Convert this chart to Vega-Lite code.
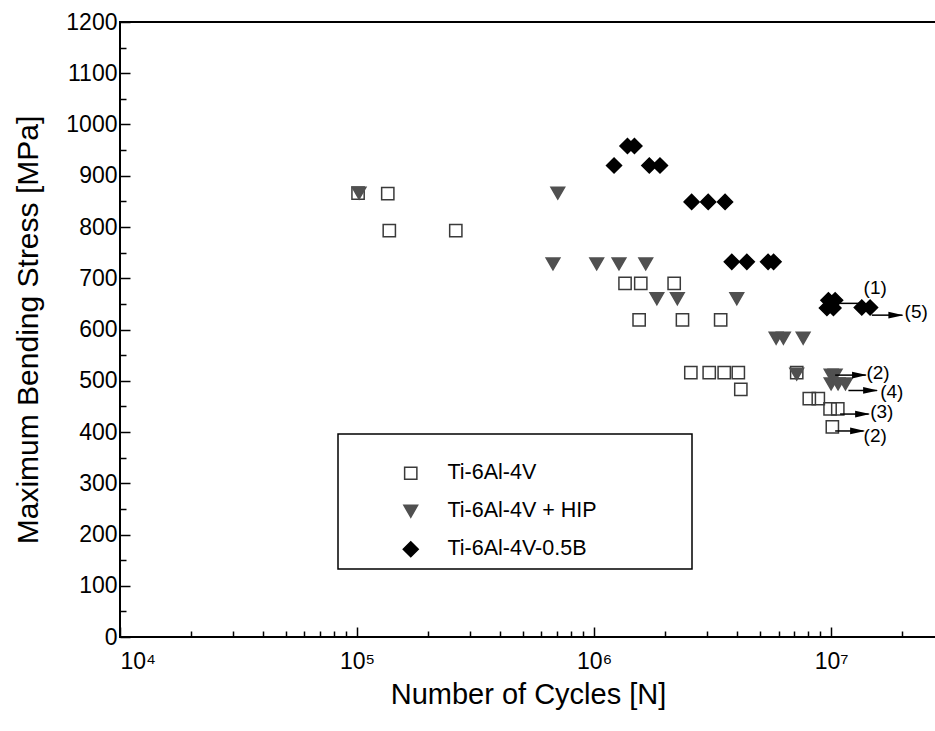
{
  "$schema": "https://vega.github.io/schema/vega-lite/v6.json",
  "autosize": {"type": "none"},
  "width": 816,
  "height": 615,
  "padding": {"left": 120, "top": 22, "right": 0, "bottom": 94},
  "background": "white",
  "config": {
    "view": {"stroke": "black", "strokeWidth": 2},
    "font": "Liberation Sans",
    "axis": {"grid": false, "domain": false, "labelFont": "Liberation Sans", "titleFont": "Liberation Sans", "labelColor": "black", "titleColor": "black", "tickColor": "black", "titleFontWeight": "normal"},
    "legend": {"strokeWidth": 1.5}
  },
  "datasets": {
    "points": [
      {"N": 101000, "S": 866, "series": "Ti-6Al-4V"},
      {"N": 134800, "S": 865, "series": "Ti-6Al-4V"},
      {"N": 136800, "S": 793, "series": "Ti-6Al-4V"},
      {"N": 261000, "S": 793, "series": "Ti-6Al-4V"},
      {"N": 1351000, "S": 690, "series": "Ti-6Al-4V"},
      {"N": 1574000, "S": 690, "series": "Ti-6Al-4V"},
      {"N": 2177000, "S": 690, "series": "Ti-6Al-4V"},
      {"N": 1549000, "S": 619, "series": "Ti-6Al-4V"},
      {"N": 2360000, "S": 619, "series": "Ti-6Al-4V"},
      {"N": 3420000, "S": 619, "series": "Ti-6Al-4V"},
      {"N": 2560000, "S": 516, "series": "Ti-6Al-4V"},
      {"N": 3060000, "S": 516, "series": "Ti-6Al-4V"},
      {"N": 3540000, "S": 516, "series": "Ti-6Al-4V"},
      {"N": 4060000, "S": 516, "series": "Ti-6Al-4V"},
      {"N": 4160000, "S": 483, "series": "Ti-6Al-4V"},
      {"N": 7160000, "S": 516, "series": "Ti-6Al-4V"},
      {"N": 8090000, "S": 465, "series": "Ti-6Al-4V"},
      {"N": 8830000, "S": 465, "series": "Ti-6Al-4V"},
      {"N": 9900000, "S": 445, "series": "Ti-6Al-4V"},
      {"N": 10670000, "S": 445, "series": "Ti-6Al-4V"},
      {"N": 10120000, "S": 410, "series": "Ti-6Al-4V"},
      {"N": 102000, "S": 866, "series": "Ti-6Al-4V  + HIP"},
      {"N": 703000, "S": 866, "series": "Ti-6Al-4V  + HIP"},
      {"N": 671000, "S": 728, "series": "Ti-6Al-4V  + HIP"},
      {"N": 1026000, "S": 728, "series": "Ti-6Al-4V  + HIP"},
      {"N": 1274000, "S": 728, "series": "Ti-6Al-4V  + HIP"},
      {"N": 1652000, "S": 728, "series": "Ti-6Al-4V  + HIP"},
      {"N": 1840000, "S": 660, "series": "Ti-6Al-4V  + HIP"},
      {"N": 2245000, "S": 660, "series": "Ti-6Al-4V  + HIP"},
      {"N": 4000000, "S": 660, "series": "Ti-6Al-4V  + HIP"},
      {"N": 5860000, "S": 583, "series": "Ti-6Al-4V  + HIP"},
      {"N": 6290000, "S": 583, "series": "Ti-6Al-4V  + HIP"},
      {"N": 7620000, "S": 583, "series": "Ti-6Al-4V  + HIP"},
      {"N": 7160000, "S": 513, "series": "Ti-6Al-4V  + HIP"},
      {"N": 10000000, "S": 511, "series": "Ti-6Al-4V  + HIP"},
      {"N": 10400000, "S": 511, "series": "Ti-6Al-4V  + HIP"},
      {"N": 10000000, "S": 494, "series": "Ti-6Al-4V  + HIP"},
      {"N": 10700000, "S": 494, "series": "Ti-6Al-4V  + HIP"},
      {"N": 11500000, "S": 494, "series": "Ti-6Al-4V  + HIP"},
      {"N": 1214000, "S": 920, "series": "Ti-6Al-4V-0.5B"},
      {"N": 1383000, "S": 958, "series": "Ti-6Al-4V-0.5B"},
      {"N": 1480000, "S": 958, "series": "Ti-6Al-4V-0.5B"},
      {"N": 1710000, "S": 920, "series": "Ti-6Al-4V-0.5B"},
      {"N": 1897000, "S": 920, "series": "Ti-6Al-4V-0.5B"},
      {"N": 2580000, "S": 849, "series": "Ti-6Al-4V-0.5B"},
      {"N": 3030000, "S": 849, "series": "Ti-6Al-4V-0.5B"},
      {"N": 3570000, "S": 849, "series": "Ti-6Al-4V-0.5B"},
      {"N": 3810000, "S": 732, "series": "Ti-6Al-4V-0.5B"},
      {"N": 4410000, "S": 732, "series": "Ti-6Al-4V-0.5B"},
      {"N": 5420000, "S": 732, "series": "Ti-6Al-4V-0.5B"},
      {"N": 5720000, "S": 732, "series": "Ti-6Al-4V-0.5B"},
      {"N": 9740000, "S": 657, "series": "Ti-6Al-4V-0.5B"},
      {"N": 10400000, "S": 657, "series": "Ti-6Al-4V-0.5B"},
      {"N": 9600000, "S": 642, "series": "Ti-6Al-4V-0.5B"},
      {"N": 10230000, "S": 642, "series": "Ti-6Al-4V-0.5B"},
      {"N": 13470000, "S": 643, "series": "Ti-6Al-4V-0.5B"},
      {"N": 14600000, "S": 643, "series": "Ti-6Al-4V-0.5B"}
    ],
    "lines": [
      {"x1": 10910000, "x2": 13470000, "S": 651},
      {"x1": 14850000, "x2": 20000000, "S": 628},
      {"x1": 10400000, "x2": 14000000, "S": 511},
      {"x1": 11830000, "x2": 15600000, "S": 481},
      {"x1": 10910000, "x2": 14400000, "S": 435},
      {"x1": 10400000, "x2": 13700000, "S": 402}
    ],
    "heads": [
      {"N": 18760000, "S": 628},
      {"N": 13180000, "S": 511},
      {"N": 14680000, "S": 481},
      {"N": 13580000, "S": 435},
      {"N": 12940000, "S": 402}
    ],
    "labels": [
      {"N": 15350000, "S": 681, "text": "(1)"},
      {"N": 22850000, "S": 634, "text": "(5)"},
      {"N": 15780000, "S": 515, "text": "(2)"},
      {"N": 18030000, "S": 478, "text": "(4)"},
      {"N": 16360000, "S": 439, "text": "(3)"},
      {"N": 15350000, "S": 392, "text": "(2)"}
    ]
  },
  "resolve": {"axis": {"x": "independent", "y": "independent"}},
  "layer": [
    {
      "data": {"name": "points"},
      "mark": {"type": "point", "opacity": 1, "strokeWidth": 1.5, "clip": false},
      "encoding": {
        "x": {"field": "N", "type": "quantitative",
          "scale": {"type": "log", "domain": [10000, 27700000], "nice": false},
          "axis": {"orient": "bottom", "values": [10000, 100000, 1000000, 10000000], "tickSize": -10, "tickWidth": 1.5, "labelPadding": 23, "labelFontSize": 23,
            "labelExpr": "datum.value == 10000 ? '10\u2074' : datum.value == 100000 ? '10\u2075' : datum.value == 1000000 ? '10\u2076' : '10\u2077'",
            "title": "Number of Cycles [N]", "titleFontSize": 29, "titlePadding": 7}},
        "y": {"field": "S", "type": "quantitative",
          "scale": {"domain": [0, 1200], "nice": false},
          "axis": {"orient": "left", "values": [0, 100, 200, 300, 400, 500, 600, 700, 800, 900, 1000, 1100, 1200], "format": "d", "tickSize": -10, "tickWidth": 1.5, "labelPadding": 13, "labelFontSize": 23,
            "title": "Maximum Bending Stress [MPa]", "titleFontSize": 30, "titlePadding": 22}},
        "shape": {"field": "series", "type": "nominal",
          "scale": {"domain": ["Ti-6Al-4V", "Ti-6Al-4V  + HIP", "Ti-6Al-4V-0.5B"], "range": ["square", "triangle-down", "diamond"]},
          "legend": {"orient": "none", "legendX": 218, "legendY": 412,
            "title": "\u2800\u2800\u2800\u2800\u2800\u2800\u2800\u2800\u2800\u2800\u2800\u2800\u2800\u2800\u2800\u2800\u2800\u2800\u2800\u2800\u2800\u2800\u2800\u2800\u2800\u2800\u2800\u2800",
            "titleFontSize": 16.5, "titlePadding": 3, "titleLimit": 1000,
            "padding": 9, "strokeColor": "black", "labelFontSize": 21.5, "labelFont": "Liberation Sans", "labelColor": "black", "labelLimit": 400,
            "rowPadding": 15, "symbolOffset": 53, "labelOffset": 26, "symbolStrokeWidth": 1.5}},
        "fill": {"field": "series", "type": "nominal",
          "scale": {"domain": ["Ti-6Al-4V", "Ti-6Al-4V  + HIP", "Ti-6Al-4V-0.5B"], "range": ["transparent", "#505050", "#000000"]}},
        "stroke": {"field": "series", "type": "nominal",
          "scale": {"domain": ["Ti-6Al-4V", "Ti-6Al-4V  + HIP", "Ti-6Al-4V-0.5B"], "range": ["#3a3a3a", "#505050", "#000000"]}},
        "size": {"field": "series", "type": "nominal",
          "scale": {"domain": ["Ti-6Al-4V", "Ti-6Al-4V  + HIP", "Ti-6Al-4V-0.5B"], "range": [150, 225, 289]}}
      }
    },
    {
      "data": {"name": "points"},
      "mark": {"type": "point", "opacity": 0},
      "encoding": {
        "x": {"field": "N", "type": "quantitative",
          "scale": {"type": "log", "domain": [10000, 27700000], "nice": false},
          "axis": {"orient": "bottom", "values": [20000, 30000, 40000, 50000, 60000, 70000, 80000, 90000, 200000, 300000, 400000, 500000, 600000, 700000, 800000, 900000, 2000000, 3000000, 4000000, 5000000, 6000000, 7000000, 8000000, 9000000, 20000000], "tickSize": -6, "tickWidth": 1.5, "labels": false, "title": null}},
        "y": {"field": "S", "type": "quantitative",
          "scale": {"domain": [0, 1200], "nice": false},
          "axis": {"orient": "left", "values": [50, 150, 250, 350, 450, 550, 650, 750, 850, 950, 1050, 1150], "tickSize": -6, "tickWidth": 1.5, "labels": false, "title": null}}
      }
    },
    {
      "data": {"name": "lines"},
      "mark": {"type": "rule", "color": "black", "strokeWidth": 1.5},
      "encoding": {
        "x": {"field": "x1", "type": "quantitative", "axis": null},
        "x2": {"field": "x2"},
        "y": {"field": "S", "type": "quantitative", "axis": null}
      }
    },
    {
      "data": {"name": "heads"},
      "mark": {"type": "point", "shape": "M-1,-0.45L1,0L-1,0.45Z", "filled": true, "color": "black", "opacity": 1, "size": 225},
      "encoding": {
        "x": {"field": "N", "type": "quantitative", "axis": null},
        "y": {"field": "S", "type": "quantitative", "axis": null}
      }
    },
    {
      "data": {"name": "labels"},
      "mark": {"type": "text", "font": "Liberation Sans", "fontSize": 19, "align": "center", "baseline": "middle", "color": "black"},
      "encoding": {
        "x": {"field": "N", "type": "quantitative", "axis": null},
        "y": {"field": "S", "type": "quantitative", "axis": null},
        "text": {"field": "text"}
      }
    }
  ]
}
